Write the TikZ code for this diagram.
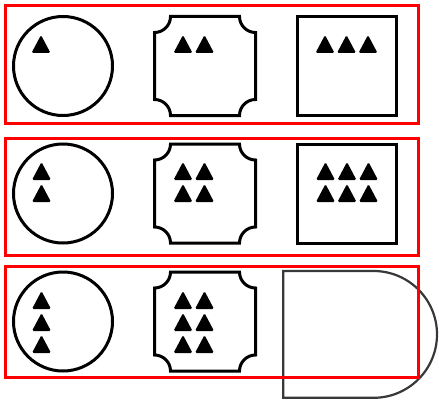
\documentclass[tikz,border=0pt]{standalone}

\tikzset{
  outline/.style={line width=3pt},
  frame/.style={draw=red, line width=3pt},
  tri/.style={fill=black, rounded corners=1.5pt},
  plate/.style={line width=2.2pt, draw=black!78}
}
% small filled triangle, base centre at (#1,#2)
\newcommand{\trimark}[2]{\fill[tri] ({#1-9.5},{#2}) -- ({#1+9.5},{#2}) -- ({#1},{#2+18}) -- cycle;}

\begin{document}
\begin{tikzpicture}[x=1pt, y=1pt]
  \useasboundingbox (0,0) rectangle (439,400);

  % Circles
  \foreach \cy in {334, 206.5, 78.5}
    \draw[outline] (63,\cy) circle[radius=49.5];

  % Notched squares
  \foreach \cy in {334, 206.5, 78.5} {
    \draw[outline] (170.5,\cy+49.5) -- (239.5,\cy+49.5)
      arc[start angle=180, end angle=270, radius=16] -- (255.5,\cy-33.5)
      arc[start angle=90, end angle=180, radius=16] -- (170.5,\cy-49.5)
      arc[start angle=0, end angle=90, radius=16] -- (154.5,\cy+33.5)
      arc[start angle=270, end angle=360, radius=16] -- cycle;
  }

  % Squares
  \draw[outline] (297.5,284.5) rectangle (396.5,383.5);
  \draw[outline] (297.5,157) rectangle (396.5,256);

  % Open shape in the last row
  \draw[plate] (373.6,129) -- (283.3,129) -- (283.3,2.2) -- (373.6,2.2)
    arc[start angle=-90, end angle=90, radius=63.4];

  % Triangles, row 1
  \trimark{41}{347}
  \foreach \x in {183, 204.5} {\trimark{\x}{347}}
  \foreach \x in {325, 346.5, 368} {\trimark{\x}{347}}

  % Triangles, row 2
  \foreach \y in {220, 198} {
    \trimark{41.5}{\y}
    \foreach \x in {183, 204.5} {\trimark{\x}{\y}}
    \foreach \x in {325.5, 347, 368.5} {\trimark{\x}{\y}}
  }

  % Triangles, row 3
  \foreach \y in {91, 69, 47} {
    \trimark{41.5}{\y}
    \foreach \x in {183, 204.5} {\trimark{\x}{\y}}
  }

  % Frames
  \draw[frame] (5.5,276.5) rectangle (418.5,394.5);
  \draw[frame] (5.5,145) rectangle (418.5,261.7);
  \draw[frame] (5.5,22.7) rectangle (418.5,134);
\end{tikzpicture}
\end{document}
